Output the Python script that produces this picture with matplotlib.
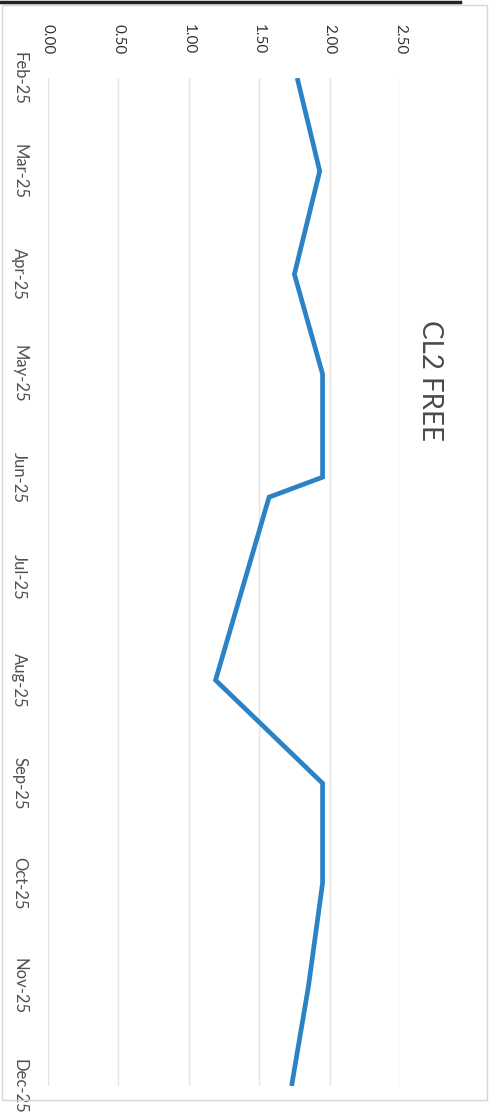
import numpy as np
import pandas as pd
import matplotlib
matplotlib.use('Agg')
import matplotlib.pyplot as plt
import matplotlib.dates as mdates
from matplotlib.lines import Line2D
from matplotlib.patches import Rectangle

# readings (date, free chlorine)
dates = ['2025-02-01', '2025-03-01', '2025-04-01', '2025-05-01', '2025-06-01', '2025-06-07',
         '2025-08-01', '2025-09-01', '2025-10-01', '2025-11-01', '2025-12-01']
values = [1.77, 1.93, 1.75, 1.95, 1.95, 1.57, 1.19, 1.95, 1.95, 1.85, 1.73]
value_ticks = [0.0, 0.5, 1.0, 1.5, 2.0, 2.5]
title = 'CL2 FREE'

dates = pd.to_datetime(dates)

plt.rcParams['font.family'] = ['Lato', 'DejaVu Sans']

fig = plt.figure(figsize=(4.91, 11.13), dpi=100)
W, H = 491, 1113

# chart is scanned rotated 90 deg clockwise: values run left->right, dates top->bottom
ax = fig.add_axes([48 / W, 1 - 1086 / H, 352 / W, 1008 / H])
ax.plot(values, dates, color='#2b83c6', linewidth=3.4, solid_capstyle='butt',
        solid_joinstyle='miter', zorder=3)

ax.set_xlim(0, 2.5)
ax.set_ylim(pd.Timestamp('2025-12-01'), pd.Timestamp('2025-02-01'))

ax.set_xticks(value_ticks)
ax.set_xticklabels([f'{v:.2f}' for v in value_ticks], rotation=-90, fontsize=11, color='#333333')
ax.xaxis.tick_top()
ax.tick_params(axis='x', length=0, pad=17)
for lbl in ax.get_xticklabels():
    lbl.set_va('bottom')
    lbl.set_ha('center')

ax.yaxis.set_major_locator(mdates.MonthLocator())
ax.yaxis.set_major_formatter(mdates.DateFormatter('%b-%y'))
ax.tick_params(axis='y', length=0, pad=15, labelsize=12, labelcolor='#505050')
for lbl in ax.get_yticklabels():
    lbl.set_rotation(-90)
    lbl.set_ha('right')
    lbl.set_va('center')

ax.grid(axis='x', color='#e4e4e4', linewidth=1.0)
ax.set_axisbelow(True)
for s in ax.spines.values():
    s.set_visible(False)

fig.text(430 / W, 1 - 380 / H, title, rotation=-90, ha='center', va='center',
         fontsize=20, color='#4a4a4a')

# chart border and scan edge
fig.patches.append(Rectangle((2 / W, 1 - 1100 / H), 485 / W, 1095 / H, transform=fig.transFigure,
                             fill=False, edgecolor='#d6d6d6', linewidth=1.0))
fig.lines.append(Line2D([0, 460 / W], [1 - 1.5 / H, 1 - 1.5 / H], transform=fig.transFigure,
                        color='#222222', linewidth=2.5))

fig.savefig('out.png', dpi=100)
